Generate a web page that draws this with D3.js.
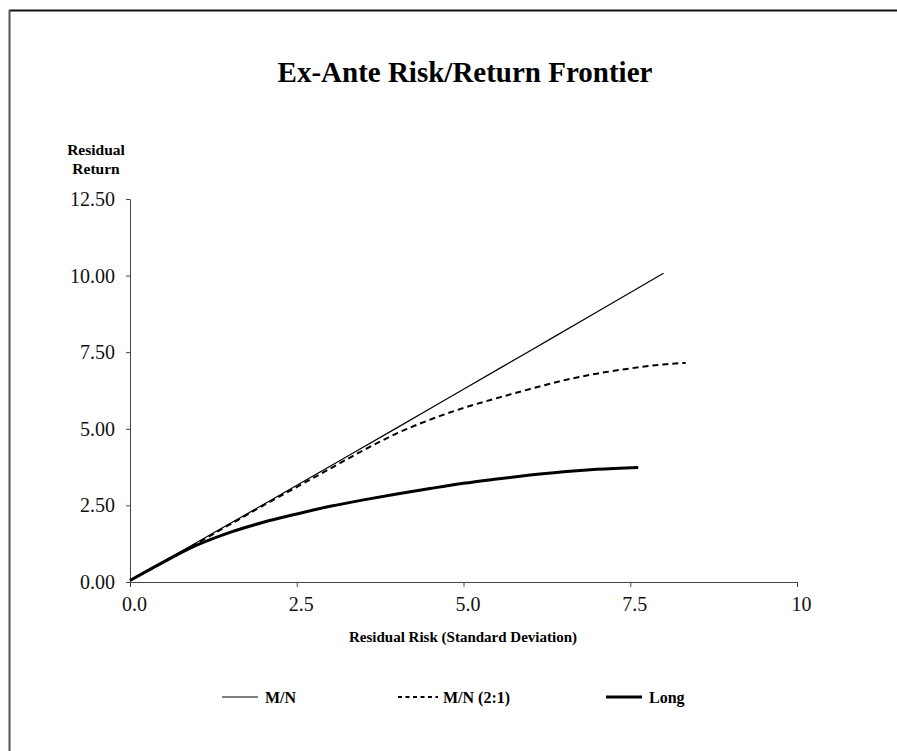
<!DOCTYPE html>
<html lang="en">
<head>
  <meta charset="UTF-8">
  <title>Ex-Ante Risk/Return Frontier</title>
  <script src="https://d3js.org/d3.v7.min.js"></script>
  <style>
    body { margin: 0; background: #fff; font-family: "Liberation Serif", "Times New Roman", serif; }
    .axis path, .axis line { stroke: #444; }
    .axis text { font-family: "Liberation Serif", serif; font-size: 20px; fill: #111; }
  </style>
</head>
<body>
  <div id="chart"></div>
  <script>
    // Data
    const xTicks = [0, 2.5, 5, 7.5, 10];
    const yTicks = [0, 2.5, 5, 7.5, 10, 12.5];

    const mnX = [0, 1, 2, 3, 4, 5, 6, 7, 8];
    const mnY = [0.05, 1.29, 2.53, 3.78, 5.03, 6.29, 7.55, 8.81, 10.08];

    const mn21X = [0, 0.5, 1, 1.5, 2, 2.5, 3, 3.5, 4, 4.5, 5, 5.5, 6, 6.5, 7, 7.5, 8, 8.33];
    const mn21Y = [0.05, 0.64, 1.26, 1.88, 2.5, 3.1, 3.7, 4.3, 4.85, 5.3, 5.68, 6.0, 6.3, 6.58, 6.8, 6.97, 7.1, 7.15];

    const longX = [0, 0.5, 1, 1.5, 2, 2.5, 3, 3.5, 4, 4.5, 5, 5.5, 6, 6.5, 7, 7.62];
    const longY = [0.05, 0.65, 1.2, 1.62, 1.95, 2.22, 2.47, 2.68, 2.87, 3.05, 3.22, 3.36, 3.49, 3.6, 3.68, 3.74];

    const seriesNames = ["M/N", "M/N (2:1)", "Long"];

    const W = 897, H = 751;
    const margin = { top: 199, right: 100, bottom: 169, left: 130 };
    const width = W - margin.left - margin.right;   // 667
    const height = H - margin.top - margin.bottom;  // 383

    const svg = d3.select("#chart").append("svg")
      .attr("width", W)
      .attr("height", H);

    // frame (top and left edges only, as in the picture)
    svg.append("line").attr("x1", 9).attr("x2", W).attr("y1", 10.5).attr("y2", 10.5)
      .attr("stroke", "#111").attr("stroke-width", 2);
    svg.append("line").attr("x1", 9.5).attr("x2", 9.5).attr("y1", 10).attr("y2", H)
      .attr("stroke", "#555").attr("stroke-width", 2);

    // title
    svg.append("text")
      .attr("x", 465).attr("y", 82)
      .attr("text-anchor", "middle")
      .style("font-size", "29px").style("font-weight", "bold")
      .text("Ex-Ante Risk/Return Frontier");

    const g = svg.append("g")
      .attr("transform", `translate(${margin.left},${margin.top})`);

    const x = d3.scaleLinear().domain([0, 10]).range([0, width]);
    const y = d3.scaleLinear().domain([0, 12.5]).range([height, 0]);

    // axes
    g.append("g")
      .attr("class", "axis")
      .attr("transform", `translate(0,${height})`)
      .call(d3.axisBottom(x).tickValues(xTicks).tickSize(5).tickSizeOuter(0)
        .tickFormat(d => d === 10 ? "10" : d3.format(".1f")(d)))
      .call(a => a.selectAll("text").attr("dy", "1.05em").attr("dx", 4));

    g.append("g")
      .attr("class", "axis")
      .call(d3.axisLeft(y).tickValues(yTicks).tickSize(4).tickSizeOuter(0).tickFormat(d3.format(".2f")))
      .call(a => a.selectAll("text").attr("x", -15));

    // axis titles
    svg.append("text")
      .attr("text-anchor", "middle")
      .style("font-size", "15.5px").style("font-weight", "bold")
      .selectAll("tspan")
      .data(["Residual", "Return"])
      .join("tspan")
      .attr("x", 96)
      .attr("y", (d, i) => 155 + i * 19)
      .text(d => d);

    svg.append("text")
      .attr("x", 463).attr("y", 642)
      .attr("text-anchor", "middle")
      .style("font-size", "15px").style("font-weight", "bold")
      .text("Residual Risk (Standard Deviation)");

    // series
    const line = d3.line().x(d => x(d[0])).y(d => y(d[1])).curve(d3.curveMonotoneX);
    const series = [
      { name: seriesNames[0], pts: d3.zip(mnX, mnY), w: 1.2, dash: null },
      { name: seriesNames[1], pts: d3.zip(mn21X, mn21Y), w: 2, dash: "6,4" },
      { name: seriesNames[2], pts: d3.zip(longX, longY), w: 3, dash: null }
    ];

    g.selectAll("path.series")
      .data(series)
      .join("path")
      .attr("class", "series")
      .attr("fill", "none")
      .attr("stroke", "#000")
      .attr("stroke-width", d => d.w)
      .attr("stroke-dasharray", d => d.dash)
      .attr("d", d => line(d.pts));

    // legend
    const legendX = [222, 398, 606];
    const leg = svg.selectAll("g.legend")
      .data(series)
      .join("g")
      .attr("class", "legend")
      .attr("transform", (d, i) => `translate(${legendX[i]},697)`);
    leg.append("line")
      .attr("x1", 0).attr("x2", (d, i) => i === 1 ? 40 : 36)
      .attr("stroke", "#000")
      .attr("stroke-width", d => d.w)
      .attr("stroke-dasharray", d => d.dash ? "4,3.5" : null);
    leg.append("text")
      .attr("x", (d, i) => i === 1 ? 45 : 43)
      .attr("y", 6)
      .style("font-size", "16px").style("font-weight", "bold")
      .text(d => d.name);
  </script>
</body>
</html>
